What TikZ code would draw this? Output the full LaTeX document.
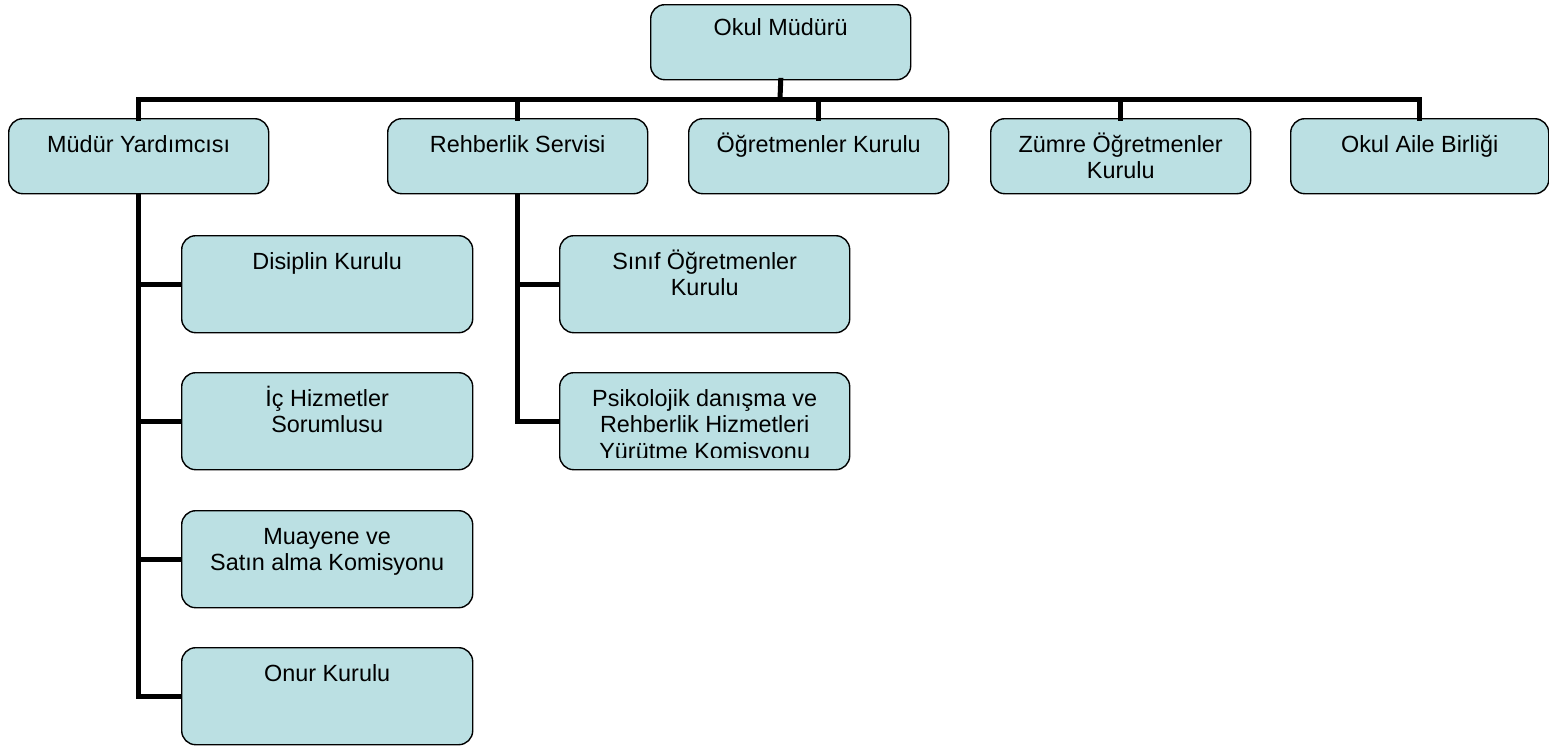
\documentclass[tikz,border=0pt]{standalone}
\usepackage{fontspec}
\setmainfont{Liberation Sans}
\definecolor{boxfill}{RGB}{187,224,227}
\begin{document}
\begin{tikzpicture}[x=1pt,y=-1pt,
  box/.style={draw=black,line width=1.4pt,fill=boxfill,rounded corners=14pt,anchor=north west,inner sep=0pt},
  topbox/.style={box,minimum width=260pt,minimum height=75pt},
  subbox/.style={box,minimum width=291pt,minimum height=97pt},
  lbl/.style={anchor=base,align=center,inner sep=0pt,font=\fontsize{23.4}{26.7}\selectfont},
  conn/.style={line width=5pt,line cap=rect}]
\useasboundingbox (0,0) rectangle (1549,748);
% boxes
\node[topbox] (om) at (650,4) {};
\node[topbox] (my) at (8,118) {};
\node[topbox] (rs) at (387,118) {};
\node[topbox] (ok) at (688,118) {};
\node[topbox] (zo) at (990,118) {};
\node[topbox,minimum width=258pt] (oa) at (1290,118) {};
\node[subbox] (dk) at (181,235) {};
\node[subbox] (ih) at (181,372) {};
\node[subbox] (ms) at (181,510) {};
\node[subbox] (ok2) at (181,647) {};
\node[subbox,minimum width=290pt] (so) at (559,235) {};
\node[subbox,minimum width=290pt] (pd) at (559,372) {};
% labels (base anchor = last line)
\node[lbl] (tom) at ([yshift=-31pt]om.north) {Okul Müdürü};
\node[lbl] (tmy) at ([yshift=-34pt]my.north) {Müdür Yardımcısı};
\node[lbl] (trs) at ([yshift=-34pt]rs.north) {Rehberlik Servisi};
\node[lbl] (tok) at ([yshift=-34pt]ok.north) {Öğretmenler Kurulu};
\node[lbl] (tzo) at ([yshift=-60.7pt]zo.north) {Zümre Öğretmenler\\Kurulu};
\node[lbl] (toa) at ([yshift=-34pt]oa.north) {Okul Aile Birliği};
\node[lbl] (tdk) at ([yshift=-34pt]dk.north) {Disiplin Kurulu};
\node[lbl] (tih) at ([yshift=-60.7pt]ih.north) {İç Hizmetler\\Sorumlusu};
\node[lbl] (tms) at ([yshift=-60.7pt]ms.north) {Muayene ve\\Satın alma Komisyonu};
\node[lbl] (tok2) at ([yshift=-34pt]ok2.north) {Onur Kurulu};
\node[lbl] (tso) at ([yshift=-60.7pt]so.north) {Sınıf Öğretmenler\\Kurulu};
\begin{scope}
\clip (559,372) rectangle (849,457);
\node[lbl] (tpd) at ([yshift=-87.4pt]pd.north) {Psikolojik danışma ve\\Rehberlik Hizmetleri\\Yürütme Komisyonu};
\end{scope}
% connectors
\coordinate (bar) at (780,99);
\draw[conn] (om.south) -- (bar);
\draw[conn] (my.north) |- (bar) -| (oa.north);
\draw[conn] (rs.north) -- (rs.north |- bar);
\draw[conn] (ok.north) -- (ok.north |- bar);
\draw[conn] (zo.north) -- (zo.north |- bar);
\draw[conn,line cap=butt] (my.south) |- (ok2.west);
\draw[conn,line cap=butt] (my.south |- dk.west) -- (dk.west);
\draw[conn,line cap=butt] (my.south |- ih.west) -- (ih.west);
\draw[conn,line cap=butt] (my.south |- ms.west) -- (ms.west);
\draw[conn,line cap=butt] (rs.south) |- (pd.west);
\draw[conn,line cap=butt] (rs.south |- so.west) -- (so.west);
\end{tikzpicture}
\end{document}
